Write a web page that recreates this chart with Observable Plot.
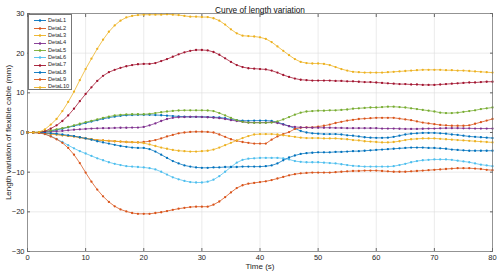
<!DOCTYPE html>
<html><head><meta charset="utf-8">
<script src="https://cdn.jsdelivr.net/npm/d3@7"></script>
<script src="https://cdn.jsdelivr.net/npm/@observablehq/plot@0.6"></script>
<style>
html,body{margin:0;padding:0;background:#fff;}
#chart{position:relative;width:500px;height:278px;font-family:Arial,"Liberation Sans",sans-serif;}
#legend{position:absolute;left:28px;top:14px;width:44px;height:76px;border:0.7px solid #777;background:#fff;box-sizing:border-box;padding-top:2.3px;}
.item{display:flex;align-items:center;height:7.37px;font-size:5.6px;color:#262626;line-height:1;}
.item svg{margin-left:5px;margin-right:2px;display:block;}
</style></head><body><div id="chart"></div>
<script>
const title = "Curve of length variation";
const xLabel = "Time (s)";
const yLabel = "Length variation of flexible cable (mm)";
const xTicks = [0,10,20,30,40,50,60,70,80];
const yTicks = [-30,-20,-10,0,10,20,30];
const names = ["DetaL1","DetaL2","DetaL3","DetaL4","DetaL5","DetaL6","DetaL7","DetaL8","DetaL9","DetaL10"];
const colors = ["#0072BD","#D95319","#EDB120","#7E2F8E","#77AC30","#4DBEEE","#A2142F","#0072BD","#D95319","#EDB120"];
const time = [0,1,2,3,4,5,6,7,8,9,10,11,12,13,14,15,16,17,18,19,20,21,22,23,24,25,26,27,28,29,30,31,32,33,34,35,36,37,38,39,40,41,42,43,44,45,46,47,48,49,50,51,52,53,54,55,56,57,58,59,60,61,62,63,64,65,66,67,68,69,70,71,72,73,74,75,76,77,78,79,80];

const detaL1 = [0,0,0.05,0.2,0.4,0.65,0.95,1.3,1.65,2,2.4, 2.75,3.1,3.45,3.75,4,4.2,4.35,4.4,4.45,4.45, 4.45,4.4,4.35,4.25,4.15,4.05,4,3.95,3.95,3.95, 3.9,3.85,3.8,3.6,3.3,3.1,3,2.95,3,3, 3,2.9,2.6,2.1,1.6,1,0.4,0,-0.2,-0.3, -0.4,-0.4,-0.4,-0.5,-0.7,-0.8,-1,-1.2,-1.3,-1.35, -1.35,-1.3,-1.1,-0.8,-0.5,-0.3,-0.2,-0.1,-0.1,-0.1, -0.2,-0.3,-0.5,-0.6,-0.8,-1,-1.1,-1.2,-1.3,-1.4];
const detaL2 = [0,0,-0.1,-0.2,-0.35,-0.5,-0.7,-0.85,-1,-1.25,-1.5, -1.7,-1.9,-2,-2.1,-2.2,-2.3,-2.4,-2.45,-2.5,-2.4, -2.2,-1.9,-1.5,-1,-0.6,-0.2,0,0.15,0.2,0.2, 0.15,0,-0.5,-1.1,-1.7,-2.1,-2.4,-2.6,-2.8,-2.8, -2.8,-1.8,-1,-0.4,0.1,0.9,1.2,1.3,1.3,1.5, 1.7,2,2.4,2.7,3,3.2,3.4,3.5,3.6,3.7, 3.7,3.7,3.7,3.5,3.3,3.1,2.8,2.5,2.3,2.1, 1.9,1.8,1.7,1.7,1.7,1.8,2.2,2.6,3,3.4];
const detaL3 = [0,0,-0.1,-0.2,-0.35,-0.5,-0.7,-0.85,-1,-1.25,-1.5, -1.7,-1.9,-2,-2.1,-2.2,-2.3,-2.4,-2.45,-2.5,-2.7, -3,-3.4,-3.8,-4.1,-4.4,-4.6,-4.7,-4.8,-4.8,-4.7, -4.6,-4.3,-3.8,-3.2,-2.6,-2,-1.4,-0.9,-0.5,-0.4, -0.4,-0.4,-0.5,-0.7,-0.9,-1.1,-1.3,-1.4,-1.4,-1.4, -1.5,-1.5,-1.5,-1.6,-1.7,-1.9,-2,-2.2,-2.3,-2.4, -2.5,-2.5,-2.4,-2.2,-1.9,-1.7,-1.6,-1.5,-1.5,-1.5, -1.6,-1.7,-1.8,-1.9,-2,-2.1,-2.2,-2.3,-2.4,-2.5];
const detaL4 = [0,0,0,0.1,0.2,0.3,0.4,0.55,0.7,0.8,0.9, 1,1.05,1.1,1.1,1.15,1.2,1.2,1.25,1.25,1.4, 1.8,2.3,2.9,3.4,3.7,3.85,3.9,3.95,3.95,3.9, 3.85,3.75,3.6,3.4,3.1,2.9,2.7,2.5,2.5,2.5, 2.5,2.6,2.4,2,1.6,1.4,1.3,1.25,1.2,1.2, 1.2,1.2,1.15,1.15,1.1,1.1,1.1,1.1,1.1,1.1, 1,1,1,0.95,0.9,0.9,0.9,0.95,1,1, 1.05,1.1,1.1,1.1,1.05,1.05,1,1,1,1];
const detaL5 = [0,0,0.1,0.3,0.5,0.8,1.1,1.4,1.8,2.2,2.6, 2.95,3.3,3.7,4,4.3,4.45,4.55,4.6,4.6,4.6, 4.7,4.9,5.1,5.3,5.45,5.55,5.6,5.6,5.6,5.6, 5.55,5.4,4.9,4.3,3.7,3.1,2.7,2.5,2.45,2.45, 2.45,2.5,2.8,3.3,3.9,4.5,5,5.3,5.4,5.5, 5.5,5.6,5.6,5.7,5.8,6,6.1,6.2,6.3,6.3, 6.4,6.5,6.5,6.4,6.3,6.1,5.9,5.7,5.5,5.3, 5,4.9,4.9,5,5.2,5.4,5.6,5.9,6.1,6.3];
const detaL6 = [0,0,-0.1,-0.4,-0.9,-1.6,-2.4,-3.2,-4,-4.7,-5.3, -5.9,-6.5,-7,-7.5,-7.9,-8.2,-8.5,-8.6,-8.7,-8.8, -9,-9.3,-9.9,-10.6,-11.3,-11.8,-12.2,-12.5,-12.6,-12.6, -12.4,-11.9,-11,-9.9,-8.7,-7.6,-6.9,-6.6,-6.5,-6.4, -6.4,-6.4,-6.4,-6.5,-6.8,-7.2,-7.4,-7.5,-7.5,-7.5, -7.6,-7.7,-7.8,-8,-8.2,-8.4,-8.5,-8.6,-8.6,-8.6, -8.6,-8.6,-8.5,-8.2,-7.9,-7.5,-7.2,-7,-6.9,-6.8, -6.8,-6.8,-6.9,-7.1,-7.3,-7.5,-7.8,-8.1,-8.3,-8.5];
const detaL7 = [0,0,0,0.3,1,1.8,2.9,4.3,6,7.9,9.7, 11.4,13,14.3,15.2,15.8,16.3,16.7,17,17.2,17.3, 17.3,17.5,18,18.5,19.1,19.7,20.2,20.6,20.8,20.8, 20.7,20.3,19.6,18.7,17.8,17,16.5,16.2,16.1,16, 15.9,15.6,15.1,14.5,14,13.6,13.3,13.2,13.1,13.1, 13.1,13.1,13,13,12.9,12.9,12.8,12.7,12.7,12.6, 12.5,12.4,12.3,12.2,12.2,12.1,12.1,12,12,12, 12.1,12.2,12.3,12.4,12.5,12.6,12.6,12.7,12.8,12.8];
const detaL8 = [0,0,0,-0.1,-0.2,-0.3,-0.5,-0.7,-0.9,-1.2,-1.5, -1.8,-2.2,-2.5,-2.8,-3.1,-3.4,-3.6,-3.8,-3.9,-3.9, -4.2,-4.8,-5.6,-6.4,-7.2,-7.8,-8.3,-8.6,-8.8,-8.9, -8.9,-8.8,-8.8,-8.7,-8.7,-8.7,-8.6,-8.6,-8.6,-8.6, -8.5,-8.3,-7.8,-7,-6.3,-5.8,-5.4,-5.2,-5.1,-5, -5,-5,-4.9,-4.9,-4.8,-4.7,-4.7,-4.6,-4.5,-4.4, -4.3,-4.2,-4.1,-4,-3.9,-3.8,-3.8,-3.8,-3.9,-3.9, -4,-4.1,-4.3,-4.4,-4.5,-4.6,-4.6,-4.6,-4.6,-4.6];
const detaL9 = [0,0,-0.1,-0.4,-1,-1.7,-2.6,-3.9,-5.6,-7.7,-10.1, -12.4,-14.4,-16.1,-17.5,-18.6,-19.4,-19.9,-20.3,-20.5,-20.5, -20.5,-20.3,-20.1,-19.8,-19.5,-19.2,-19,-18.8,-18.7,-18.7, -18.7,-18.2,-17.4,-16.3,-15.1,-14,-13.3,-12.9,-12.7,-12.5, -12.3,-12,-11.6,-11.2,-10.8,-10.5,-10.3,-10.2,-10.1,-10.1, -10.1,-10.1,-10,-9.9,-9.8,-9.7,-9.7,-9.6,-9.6,-9.6, -9.7,-9.8,-9.9,-9.9,-9.9,-9.8,-9.7,-9.6,-9.5,-9.4, -9.3,-9.2,-9.1,-9,-9,-9,-9.1,-9.2,-9.4,-9.5];
const detaL10 = [0,0,0.1,0.8,2,3.4,5.4,7.7,10.3,13.2,16, 18.6,21.1,23.4,25.4,27,28.2,29,29.4,29.6,29.7, 29.7,29.7,29.7,29.8,29.7,29.6,29.4,29.2,29.2,29.1, 29.1,28.8,28.2,27.2,26,25,24.4,24.3,24.2,24, 23.6,22.8,21.7,20.6,19.5,18.5,17.8,17.5,17.4,17.4, 17.3,17,16.5,16,15.6,15.3,15.2,15.1,15.1,15.1, 15.1,15.2,15.3,15.4,15.5,15.6,15.7,15.8,15.8,15.8, 15.8,15.7,15.7,15.6,15.6,15.5,15.4,15.3,15.2,15.1];

const seriesValues = [detaL1,detaL2,detaL3,detaL4,detaL5,detaL6,detaL7,detaL8,detaL9,detaL10];
const tables = seriesValues.map((vals,i)=> time.map((t,j)=>({name:names[i], t, v:vals[j]})));

const seriesMarks = tables.flatMap((rows,i)=>[
  Plot.line(rows,{x:"t", y:"v", stroke:colors[i], strokeWidth:0.9, strokeOpacity:0.85}),
  Plot.dot(rows,{x:"t", y:"v", fill:colors[i], r:1.15, stroke:"none"})
]);

const font = "Arial, 'Liberation Sans', sans-serif";
const chart = Plot.plot({
  width:500, height:278,
  marginLeft:27, marginRight:8, marginTop:13, marginBottom:27,
  style:{fontFamily:font, fontSize:"7.5px", color:"#262626", background:"#fff", overflow:"visible"},
  x:{domain:[0,80]},
  y:{domain:[-30,30]},
  marks:[
    Plot.gridX({ticks:xTicks, stroke:"#dedede", strokeOpacity:1, strokeWidth:0.6}),
    Plot.gridY({ticks:yTicks, stroke:"#dedede", strokeOpacity:1, strokeWidth:0.6}),
    Plot.axisX({ticks:xTicks, tickSize:0, tickPadding:3, label:null, fontSize:7.5}),
    Plot.axisY({ticks:yTicks, tickSize:0, tickPadding:3, label:null, fontSize:7.5}),
    Plot.axisX({ticks:xTicks, anchor:"bottom", tickSize:-3, tickFormat:()=>"", label:null, stroke:"#666"}),
    Plot.axisX({ticks:xTicks, anchor:"top", tickSize:-3, tickFormat:()=>"", label:null, stroke:"#666"}),
    Plot.axisY({ticks:yTicks, anchor:"left", tickSize:-3, tickFormat:()=>"", label:null, stroke:"#666"}),
    Plot.axisY({ticks:yTicks, anchor:"right", tickSize:-3, tickFormat:()=>"", label:null, stroke:"#666"}),
    ...seriesMarks,
    Plot.frame({stroke:"#6e6e6e", strokeWidth:0.7}),
    Plot.text([title],{text:d=>d, frameAnchor:"top", dy:-6, fontSize:8.3, fill:"#111"}),
    Plot.text([xLabel],{text:d=>d, frameAnchor:"bottom", dy:17, fontSize:8, fill:"#262626"}),
    Plot.text([yLabel],{text:d=>d, frameAnchor:"left", textAnchor:"middle", dx:-19, rotate:-90, fontSize:8, fill:"#262626"})
  ]
});
const root = document.getElementById("chart");
root.appendChild(chart);

const legend = d3.select(root).append("div").attr("id","legend");
names.forEach((n,i)=>{
  const item = legend.append("div").attr("class","item");
  const sw = item.append("svg").attr("width",12).attr("height",5);
  sw.append("line").attr("x1",0).attr("x2",12).attr("y1",2.5).attr("y2",2.5).attr("stroke",colors[i]).attr("stroke-width",0.9);
  sw.append("circle").attr("cx",6).attr("cy",2.5).attr("r",1.2).attr("fill",colors[i]);
  item.append("span").text(n);
});
</script></body></html>
